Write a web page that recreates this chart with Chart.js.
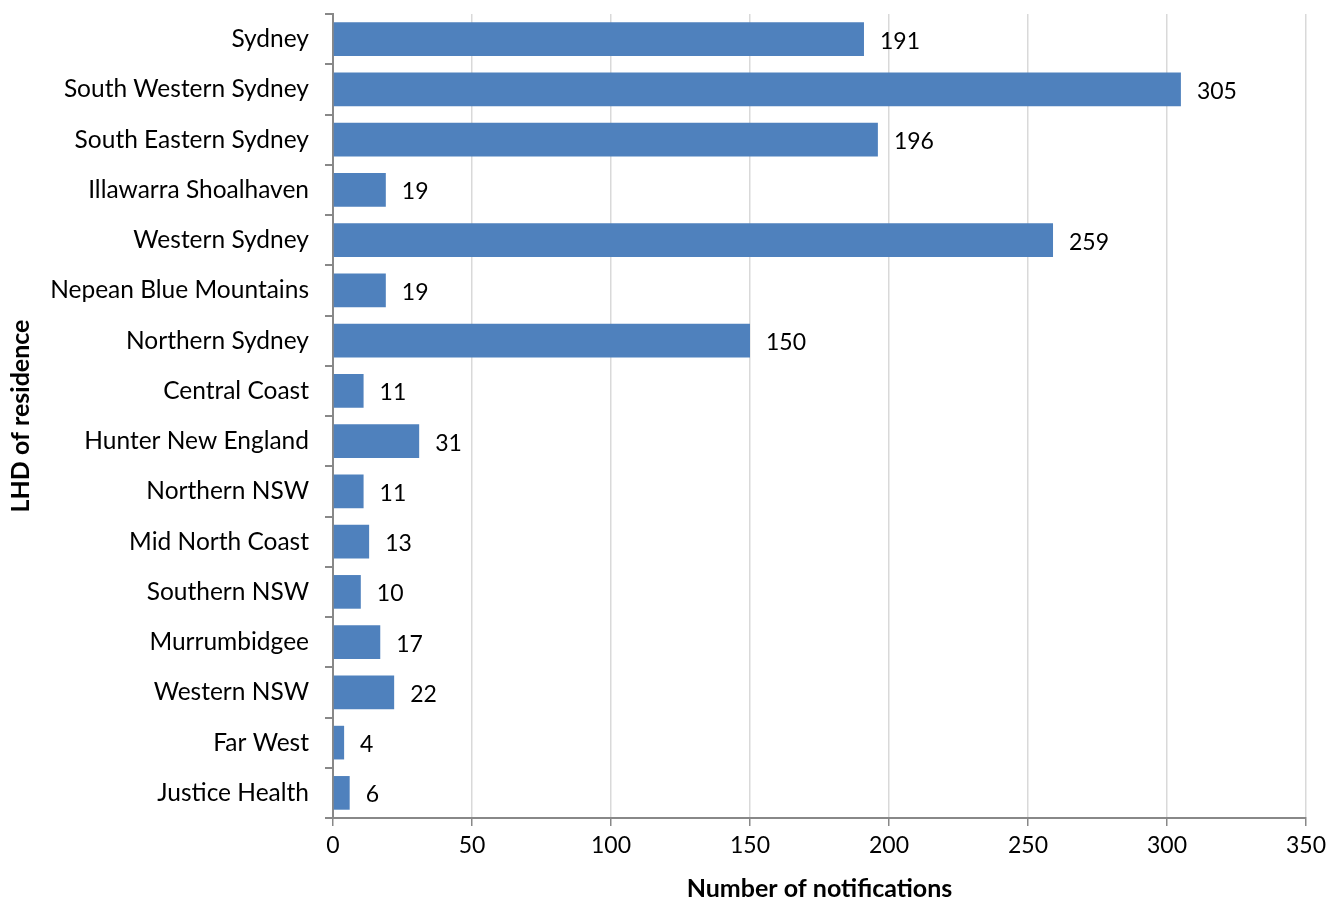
<!DOCTYPE html>
<html>
<head>
<meta charset="utf-8">
<script src="https://cdn.jsdelivr.net/npm/chart.js@4"></script>
<style>
  html, body { margin: 0; padding: 0; background: #fff; }
  #wrap { width: 1338px; height: 904px; }
</style>
</head>
<body>
<div id="wrap"><canvas id="myChart"></canvas></div>
<script>
// DATA
const districts = [
  'Sydney', 'South Western Sydney', 'South Eastern Sydney', 'Illawarra Shoalhaven',
  'Western Sydney', 'Nepean Blue Mountains', 'Northern Sydney', 'Central Coast',
  'Hunter New England', 'Northern NSW', 'Mid North Coast', 'Southern NSW',
  'Murrumbidgee', 'Western NSW', 'Far West', 'Justice Health'
];
const notifications = [191, 305, 196, 19, 259, 19, 150, 11, 31, 11, 13, 10, 17, 22, 4, 6];
const xTicks = [0, 50, 100, 150, 200, 250, 300, 350];

const FONT = 'Lato, "Open Sans", sans-serif';

// draws the number next to each bar
const barValues = {
  id: 'barValues',
  afterDatasetsDraw(chart) {
    const ctx = chart.ctx;
    const meta = chart.getDatasetMeta(0);
    ctx.save();
    ctx.font = '23px ' + FONT;
    ctx.fillStyle = '#000';
    ctx.textAlign = 'left';
    ctx.textBaseline = 'middle';
    meta.data.forEach((bar, i) => {
      ctx.fillText(notifications[i], bar.x + 16, bar.y + 2);
    });
    ctx.restore();
  }
};

const myChart = new Chart(document.getElementById('myChart'), {
  type: 'bar',
  data: {
    labels: districts,
    datasets: [{
      data: notifications,
      backgroundColor: '#4F81BD',
      borderWidth: 0,
      categoryPercentage: 1,
      barPercentage: 0.67
    }]
  },
  options: {
    indexAxis: 'y',
    responsive: true,
    maintainAspectRatio: false,
    animation: false,
    layout: { padding: { top: 14, right: 32, left: 0, bottom: 0 } },
    plugins: { legend: { display: false }, tooltip: { enabled: false } },
    scales: {
      x: {
        min: 0,
        max: 350,
        afterBuildTicks: (scale) => { scale.ticks = xTicks.map(v => ({ value: v })); },
        afterFit: (scale) => { scale.height = 86; },
        grid: { color: '#d9d9d9', lineWidth: 1.5, tickColor: '#888', tickLength: 8, drawTicks: true },
        border: { color: '#888', width: 2 },
        ticks: { color: '#000', font: { family: FONT, size: 23 }, padding: 6, maxRotation: 0 },
        title: {
          display: true,
          text: 'Number of notifications',
          color: '#000',
          font: { family: FONT, size: 25, weight: 'bold' },
          padding: { top: 7, bottom: 0 }
        }
      },
      y: {
        afterFit: (scale) => {
          scale.width = 333;
          scale.paddingTop = 0;
          scale.paddingBottom = 0;
        },
        grid: { offset: true, drawOnChartArea: false, tickColor: '#888', tickLength: 8, lineWidth: 2 },
        border: { color: '#888', width: 2 },
        ticks: { color: '#000', font: { family: FONT, size: 24.5 }, padding: 16, autoSkip: false },
        title: {
          display: true,
          text: 'LHD of residence',
          color: '#000',
          font: { family: FONT, size: 25, weight: 'bold' },
          padding: { top: 6, bottom: 0 }
        }
      }
    }
  },
  plugins: [barValues]
});
</script>
</body>
</html>
